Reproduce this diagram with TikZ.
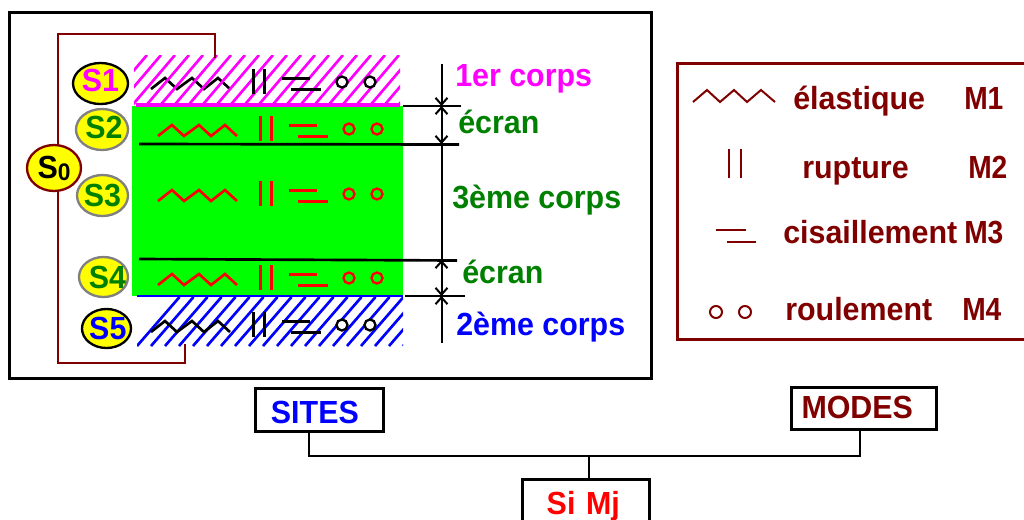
\documentclass[tikz,border=0pt]{standalone}
\usepackage{fontspec}
\setmainfont{Liberation Sans}[FakeStretch=0.95]
\usepackage{xcolor}
\definecolor{sitemagenta}{HTML}{FF00FF}
\definecolor{sitegreen}{HTML}{008000}
\definecolor{siteblue}{HTML}{0000FF}
\definecolor{modered}{HTML}{FF0000}
\definecolor{modemaroon}{HTML}{800000}
\definecolor{lime}{HTML}{00FF00}
\definecolor{sitefill}{HTML}{FFFF00}
\usetikzlibrary{arrows.meta, shapes.geometric}

% zigzag of one row of mode symbols, origin at its start
\newcommand{\modezig}[3]{%
  \draw[shift={(#1,#2)}, draw=#3, line width=2pt]
    (0,0) -- (14,-11) -- (26,0) -- (41,-11) -- (53,0) -- (67,-11) -- (79,0);}
% the other three symbols of that row
\newcommand{\modemarks}[4]{%
  \begin{scope}[shift={(#1,#2)}, draw=#3, line width=2.25pt]
    \draw (102,-20) -- (102,5);
    \draw (113,-20) -- (113,5);
    \draw (131,-11) -- (159,-11);
    \draw (140,0) -- (170,0);
    \draw[fill=#4, line width=1.75pt] (191,-7) circle[radius=5.5];
    \draw[fill=#4, line width=1.75pt] (219,-7) circle[radius=5.5];
  \end{scope}}
% site label set off from the centre of its ellipse
\newcommand{\sitetext}[2]{\makebox[0pt]{\hspace{#1}#2}}

\begin{document}
\begin{tikzpicture}[
  x=0.75pt, y=-0.75pt,
  site/.style={draw, ellipse, fill=sitefill, line width=1.75pt, inner sep=0pt, font=\fontsize{24}{24}\selectfont\bfseries},
  sitemain/.style={site, draw=black},
  sitescreen/.style={site, draw=black!50},
  lab/.style={anchor=base west, inner sep=0pt, font=\fontsize{24}{24}\selectfont\bfseries},
  mlab/.style={lab, font=\fontsize{24}{24}\selectfont\bfseries\addfontfeature{FakeStretch=0.88}},
  tag/.style={draw=black, line width=2.25pt, anchor=north west, inner ysep=0pt, align=left, font=\fontsize{24}{24}\selectfont\bfseries},
  wire/.style={draw=modemaroon, line width=1.75pt},
  lnk/.style={draw=black, line width=1.5pt},
  dim/.style={draw=black, line width=1.5pt},
  dimarr/.style={dim, {Straight Barb[length=5pt,width=9pt]}-{Straight Barb[length=5pt,width=9pt]}},
  hatchline/.style={line width=2pt},
]
  \clip (0,0) rectangle (1024,519);
  \useasboundingbox (0,0) rectangle (1024,519);
  \fill[white] (0,0) rectangle (1024,519);

  % Outer frame
  \draw[line width=2.25pt] (9.5,12) rectangle (651.5,378);

  % Hatched bodies
  \modezig{151}{89}{black}
  \begin{scope}
    \clip (134,55) rectangle (400,105);
    \foreach \i in {0,...,22}
      \draw[hatchline, sitemagenta] (147+\i*14,55) -- ++(-42.5,50);
  \end{scope}
  \begin{scope}
    \clip (137,297) rectangle (403,346);
    \foreach \i in {0,...,22}
      \draw[hatchline, siteblue] (137+\i*14,346) -- ++(42.5,-49);
  \end{scope}

  % Third body
  \fill[lime] (132,106) rectangle (403,295.5);
  \draw[line width=3pt, sitemagenta] (136,105) -- (400,105);
  \draw[line width=2pt, siteblue] (137,296) -- (403,296);

  % Mode symbols
  \modemarks{151}{89}{black}{white}
  \modezig{158}{136}{modered}
  \modemarks{158}{136}{modered}{lime}
  \modezig{158}{201}{modered}
  \modemarks{158}{201}{modered}{lime}
  \modezig{158}{285}{modered}
  \modemarks{158}{285}{modered}{lime}
  \modezig{151}{332}{black}
  \modemarks{151}{332}{black}{white}

  % Sites
  \coordinate (wt) at (58,34);
  \coordinate (wb) at (58,363);
  \coordinate (ca) at (215,58);
  \coordinate (cb) at (185,344);
  \node[sitemain, minimum width=41.25pt, minimum height=30.75pt, text depth=5pt, text=sitemagenta] (s1) at (100.5,83.5) {\sitetext{0pt}{S1}};
  \node[sitescreen, minimum width=39pt, minimum height=30.75pt, text depth=3.5pt, text=sitegreen] (s2) at (102,129.5) {\sitetext{3pt}{S2}};
  \node[sitescreen, minimum width=38.25pt, minimum height=30.75pt, text=sitegreen] (s3) at (102.5,195.5) {\sitetext{0pt}{S3}};
  \node[sitescreen, minimum width=36.75pt, minimum height=30pt, text=sitegreen] (s4) at (103.5,277) {\sitetext{6pt}{S4}};
  \node[sitemain, minimum width=36.75pt, minimum height=29.25pt, text=siteblue] (s5) at (106.5,328.5) {\sitetext{2pt}{S5}};
  \node[site, draw=modemaroon, minimum width=40.5pt, minimum height=34.5pt] (s0) at (54,168)
    {S{\fontsize{18}{18}\selectfont\raisebox{-1.5pt}{0}}};

  % Site wiring
  \draw[wire] (s0.north -| wt) -- (wt) -| (ca);
  \draw[wire] (s0.south -| wb) -- (wb) -| (cb);

  % Screen lines
  \coordinate (sa) at (139,144);
  \coordinate (sb) at (459,144.5);
  \coordinate (sc) at (139,259);
  \coordinate (sd) at (457,260.5);
  \coordinate (se) at (403,106);
  \coordinate (sf) at (461,106);
  \coordinate (sg) at (405,296);
  \coordinate (sh) at (465,296);
  \draw[dim, line width=2pt] (sa) -- (sb);
  \draw[dim, line width=2pt] (sc) -- (sd);
  \draw[dim] (se) -- (sf);
  \draw[dim] (sg) -- (sh);

  % Dimension line
  \coordinate (da) at (441.5,64);
  \coordinate (db) at (441.5,106);
  \coordinate (dc) at (441.5,144);
  \coordinate (dd) at (441.5,260);
  \coordinate (de) at (441.5,296);
  \coordinate (df) at (441.5,343);
  \draw[dim, -{Straight Barb[length=5pt,width=9pt]}] (da) -- (db);
  \draw[dimarr] (db) -- (dc);
  \draw[dim] (dc) -- (dd);
  \draw[dimarr] (dd) -- (de);
  \draw[dim, {Straight Barb[length=5pt,width=9pt]}-] (de) -- (df);

  % Body labels
  \node[lab, text=sitemagenta] (body1) at (455,86) {1er corps};
  \node[lab, text=sitegreen] (screen1) at (458,133) {écran};
  \node[lab, text=sitegreen] (body3) at (452,208) {3ème corps};
  \node[lab, text=sitegreen] (screen2) at (462,283) {écran};
  \node[lab, text=siteblue] (body2) at (456,335) {2ème corps};

  % Legend
  \draw[line width=2.25pt, modemaroon] (677,63.5) rectangle (1040,339);
  \begin{scope}[modemaroon, line width=1.5pt]
    \draw (693,102) -- (707,90) -- (720,102) -- (734,90) -- (747,102) -- (761,90) -- (775,102);
    \draw (729,149) -- (729,178);
    \draw (741,149) -- (741,178);
    \draw (716,230) -- (746,230);
    \draw (727,242) -- (756,242);
    \draw (716,312) circle[radius=6];
    \draw (745,312) circle[radius=6];
  \end{scope}
  \node[lab, text=modemaroon] (elastic) at (793,109) {élastique};
  \node[mlab, text=modemaroon] (m1) at (964,109) {M1};
  \node[lab, text=modemaroon] (rupture) at (802,178) {rupture};
  \node[mlab, text=modemaroon] (m2) at (968,178) {M2};
  \node[lab, text=modemaroon] (shear) at (783,243) {cisaillement};
  \node[mlab, text=modemaroon] (m3) at (964,243) {M3};
  \node[lab, text=modemaroon] (rolling) at (785,320) {roulement};
  \node[mlab, text=modemaroon] (m4) at (962,320) {M4};

  % Bottom boxes
  \node[tag, inner xsep=11.6pt, text width=72.8pt, text height=26.6pt, text depth=5.65pt, text=siteblue] (sites) at (254,387) {SITES};
  \node[tag, inner xsep=7.5pt, text width=93.75pt, text height=23.6pt, text depth=7.9pt, text=modemaroon] (modes) at (790,386) {MODES};
  \node[tag, inner xsep=18.4pt, text width=58.45pt, text height=25.9pt, text depth=11pt, text=modered] (simj) at (520.7,478) {Si Mj};

  \coordinate (bl) at (309,456);
  \coordinate (br) at (860,456);
  \coordinate (bm) at (589,456);
  \draw[lnk] (sites.south -| bl) -- (bl) -- (br) -- (modes.south -| br);
  \draw[lnk] (simj.north -| bm) -- (bm);
\end{tikzpicture}
\end{document}
